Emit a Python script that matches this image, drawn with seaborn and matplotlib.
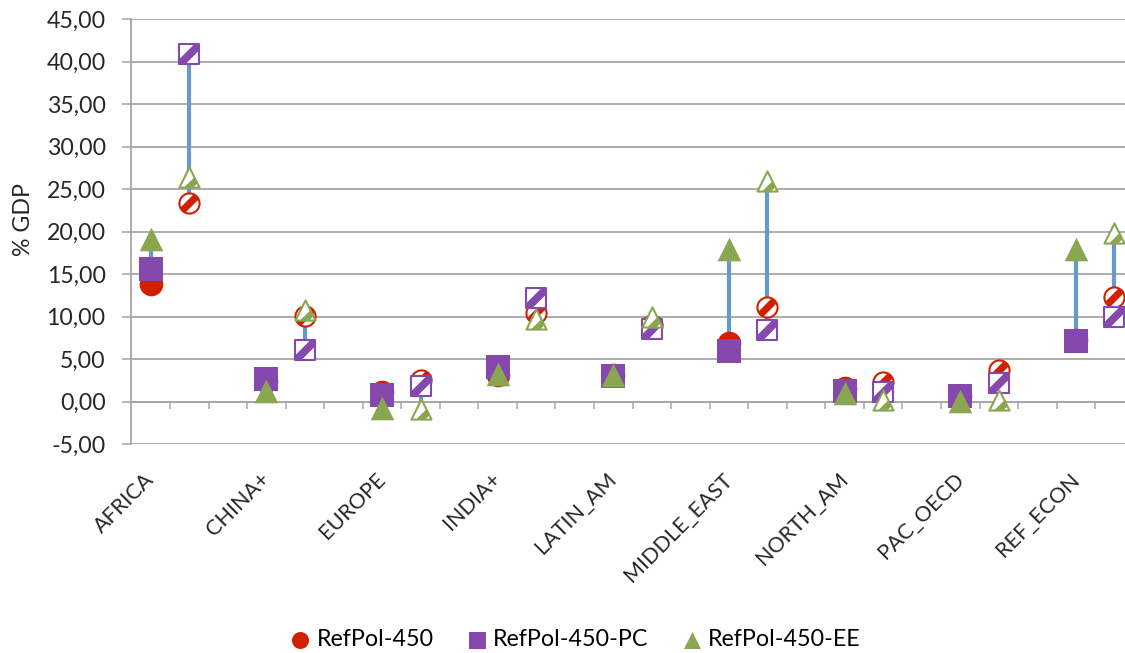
import numpy as np
import pandas as pd
import matplotlib
matplotlib.use("Agg")
import matplotlib.pyplot as plt
from matplotlib.path import Path
from matplotlib.ticker import FuncFormatter
import seaborn as sns

# ---------------- data ----------------
regions = ["AFRICA", "CHINA+", "EUROPE", "INDIA+", "LATIN_AM",
           "MIDDLE_EAST", "NORTH_AM", "PAC_OECD", "REF_ECON"]
series_names = ["RefPol-450", "RefPol-450-PC", "RefPol-450-EE"]

# first period (filled markers)
ref450_a = [13.9, 2.5, 1.1, 3.2, 3.2, 6.9, 1.6, 0.7, 7.3]
pc_a     = [15.6, 2.7, 0.8, 4.1, 3.0, 6.0, 1.3, 0.7, 7.2]
ee_a     = [19.2, 1.3, -0.75, 3.3, 3.1, 18.0, 1.0, 0.1, 18.0]
# second period (patterned markers)
ref450_b = [23.4, 10.1, 2.6, 10.5, 9.0, 11.15, 2.3, 3.7, 12.3]
pc_b     = [40.9, 6.1, 1.8, 12.2, 8.6, 8.45, 1.15, 2.2, 10.0]
ee_b     = [26.4, 10.8, -0.8, 9.7, 10.0, 25.95, 0.2, 0.2, 19.85]

yticks = [-5, 0, 5, 10, 15, 20, 25, 30, 35, 40, 45]

# ---------------- style ----------------
colors = ["#D02000", "#8549AE", "#8BA650"]
markers = ["o", "s", "^"]
line_blue = "#6699CC"
grid_gray = "#A6A6A6"

sns.set_theme(style="white")
plt.rcParams["font.family"] = ["Lato", "DejaVu Sans"]
plt.rcParams["text.color"] = "black"

fig = plt.figure(figsize=(11.25, 6.53), dpi=100)
renderer = fig.canvas.get_renderer()
PX = 72.0 / fig.dpi  # points per pixel


def fit_size(text, target_px, base=15.0):
    t = fig.text(0, 0, text, fontsize=base)
    w = t.get_window_extent(renderer).width
    t.remove()
    return base * target_px / w


fs_tick = fit_size("45,00", 59)
fs_cat = fit_size("MIDDLE_EAST", 143)
fs_leg = fit_size("RefPol-450-PC", 155)
fs_ylab = fs_tick

ax = fig.add_axes([131.4 / 1125, 208.7 / 653, 1002.3 / 1125, 425 / 653])

n = len(regions)
pos_a = np.arange(n) * 3
pos_b = np.arange(n) * 3 + 1

vals_a = [ref450_a, pc_a, ee_a]
vals_b = [ref450_b, pc_b, ee_b]

# high-low lines
arr_a = np.array(vals_a)
arr_b = np.array(vals_b)
ax.vlines(pos_a, arr_a.min(axis=0), arr_a.max(axis=0), color=line_blue, lw=3.0, zorder=2)
ax.vlines(pos_b, arr_b.min(axis=0), arr_b.max(axis=0), color=line_blue, lw=3.0, zorder=2)


# ---------------- pattern band markers ----------------
def clip(poly, a, b, c):
    out = []
    m = len(poly)
    for i in range(m):
        p = poly[i]
        q = poly[(i + 1) % m]
        fp = a * p[0] + b * p[1] - c
        fq = a * q[0] + b * q[1] - c
        if fp <= 0:
            out.append(p)
        if (fp <= 0) != (fq <= 0):
            t = fp / (fp - fq)
            out.append((p[0] + t * (q[0] - p[0]), p[1] + t * (q[1] - p[1])))
    return out


def band_path(shape, off, h):
    if shape == "o":
        th = np.linspace(0, 2 * np.pi, 90, endpoint=False)
        poly = list(zip(np.cos(th), np.sin(th)))
    elif shape == "s":
        poly = [(-1, -1), (1, -1), (1, 1), (-1, 1)]
    else:
        poly = [(0, 1), (-1, -1), (1, -1)]
    poly = clip(poly, 1, -1, off + h)
    poly = clip(poly, -1, 1, -(off - h))
    verts = [(1.0, 1.0)] + list(poly) + [poly[0]]
    codes = [Path.MOVETO, Path.MOVETO] + [Path.LINETO] * (len(poly) - 1) + [Path.CLOSEPOLY]
    return Path(np.array(verts, dtype=float), codes)


band_params = {"o": (0.0, 0.5), "s": (0.0, 0.55), "^": (0.9, 0.45)}

ms_filled = 17.0
ms_hollow = 14.5

for name, vals, c, m in zip(series_names, vals_a, colors, markers):
    sns.scatterplot(x=pos_a, y=vals, marker=m, s=ms_filled ** 2, color=c,
                    linewidth=0, ax=ax, zorder=3, label=name)

for name, vals, c, m in zip(series_names, vals_b, colors, markers):
    sns.scatterplot(x=pos_b, y=vals, marker=m, s=ms_hollow ** 2, color="white",
                    edgecolor=c, linewidth=1.5, ax=ax, zorder=3, label="_nolegend_")
    off, h = band_params[m]
    sns.scatterplot(x=pos_b, y=vals, marker=band_path(m, off, h), s=ms_hollow ** 2,
                    color=c, linewidth=0, ax=ax, zorder=3, label="_nolegend_")

# ---------------- axes ----------------
ax.set_xlim(-0.5, 25.5)
ax.set_ylim(-5, 45)
ax.set_yticks(yticks)
ax.yaxis.set_major_formatter(FuncFormatter(lambda v, p: f"{v:.2f}".replace(".", ",")))
ax.grid(axis="y", color=grid_gray, lw=1.3)
ax.grid(axis="x", visible=False)
ax.set_axisbelow(True)

for s in ["top", "right"]:
    ax.spines[s].set_visible(False)
ax.spines["left"].set_color(grid_gray)
ax.spines["left"].set_linewidth(1.3)
ax.spines["bottom"].set_position(("data", 0))
ax.spines["bottom"].set_color(grid_gray)
ax.spines["bottom"].set_linewidth(1.3)

ax.set_xticks(np.arange(0.5, 25.0, 1.0))
ax.set_xticklabels([])
ax.tick_params(axis="x", direction="out", length=5, width=1.1, color=grid_gray, bottom=True)
ax.tick_params(axis="y", direction="out", length=6.5, width=1.1, color=grid_gray,
               left=True, pad=12, labelsize=fs_tick)
ax.set_xlabel("")
ax.set_ylabel("% GDP", fontsize=fs_ylab)
ax.yaxis.set_label_coords(-0.097, 0.53)

sec = ax.secondary_xaxis("bottom")
sec.set_xticks(pos_a)
sec.set_xticklabels(regions)
sec.tick_params(length=0, pad=23, labelsize=fs_cat)
sec.spines["bottom"].set_visible(False)
for lbl in sec.get_xticklabels():
    lbl.set_rotation(45)
    lbl.set_ha("right")
    lbl.set_va("center")
    lbl.set_rotation_mode("anchor")

handles, labels = ax.get_legend_handles_labels()
leg_ax = ax.get_legend()
if leg_ax is not None:
    leg_ax.remove()

fs_leg_px = fs_leg / PX
fig.legend(handles, labels, loc="center", bbox_to_anchor=(576 / 1125, 1 - 640 / 653),
           ncol=3, frameon=False, fontsize=fs_leg,
           handlelength=18 / fs_leg_px, handletextpad=7.5 / fs_leg_px,
           columnspacing=34 / fs_leg_px, markerscale=0.72, borderpad=0, borderaxespad=0)

fig.savefig("out.png", dpi=100)
